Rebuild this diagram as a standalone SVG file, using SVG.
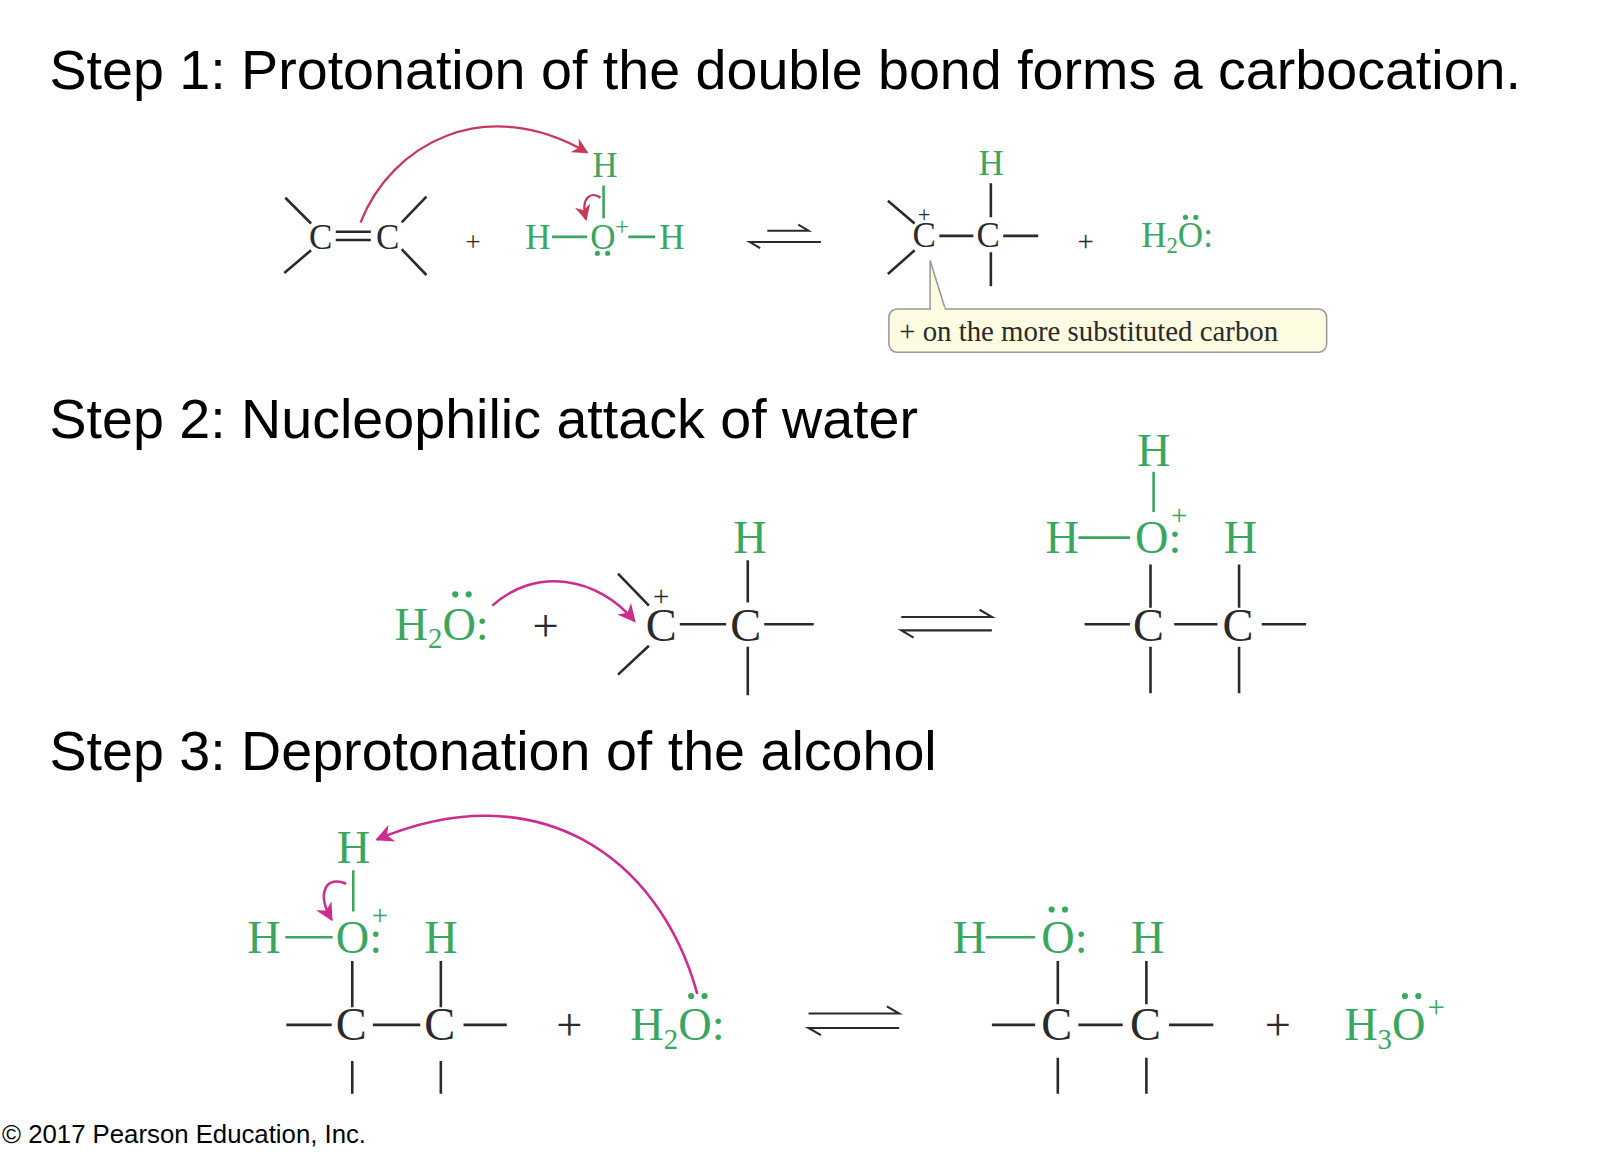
<svg xmlns="http://www.w3.org/2000/svg" width="1614" height="1154" viewBox="0 0 1614 1154">
<defs>
<style>
.t{font-family:"Liberation Sans",Arial,sans-serif;font-size:54px;fill:#000}
.c{font-family:"Liberation Serif","Times New Roman",serif;fill:#2a2a2a}
.g{font-family:"Liberation Serif","Times New Roman",serif;fill:#3aa660}
.s1{font-size:34px}.s2{font-size:45px}
.b{stroke:#2a2a2a;stroke-width:2.5;fill:none}
.bg{stroke:#3aa660;stroke-width:2.5;fill:none}
.ar{stroke:#c8385a;stroke-width:2.2;fill:none}
.am{stroke:#cc2c8e;stroke-width:2.5;fill:none}
.dot{fill:#3aa660}
</style>
<marker id="mr" viewBox="0 0 10 10" refX="9" refY="5" markerWidth="7" markerHeight="7" orient="auto"><path d="M0,0 L10,5 L0,10 L3,5z" fill="#c8385a"/></marker>
<marker id="mm" viewBox="0 0 10 10" refX="9" refY="5" markerWidth="7" markerHeight="7" orient="auto"><path d="M0,0 L10,5 L0,10 L3,5z" fill="#cc2c8e"/></marker>
</defs>
<rect width="1614" height="1154" fill="#fff"/>
<g transform="scale(1.03)">
<g id="titles">
<text class="t" x="48" y="86">Step 1: Protonation of the double bond forms a carbocation.</text>
<text class="t" x="48" y="425">Step 2: Nucleophilic attack of water</text>
<text class="t" x="48" y="748">Step 3: Deprotonation of the alcohol</text>
<text x="2" y="1110" style="font-family:'Liberation Sans',Arial,sans-serif;font-size:25px">© 2017 Pearson Education, Inc.</text>
</g>
<g id="step1-alkene">
<text class="c s1" x="300" y="242">C</text><text class="c s1" x="365" y="242">C</text>
<path class="b" d="M277,192L302,217M302,243L276,265M390,216L414,191M390,242L414,267M326,225H360M326,233H360"/>
</g>
<g id="step1-hydronium">
<text class="c s1" x="452" y="244" style="font-size:26px">+</text>
<text class="g s1" x="510" y="242">H</text><text class="g s1" x="573" y="242">O</text><text class="g s1" x="640" y="242">H</text>
<text class="g s1" x="575" y="172">H</text>
<text class="g" x="597" y="228" style="font-size:24px">+</text>
<path class="bg" d="M536,230H570M610,230H636M586,180V212"/>
<circle class="dot" cx="580" cy="246" r="2.5"/><circle class="dot" cx="590" cy="246" r="2.5"/>
</g>
<g id="step1-products">
<text class="c s1" x="886" y="240">C</text><text class="c" x="891" y="216" style="font-size:22px">+</text>
<text class="c s1" x="948" y="240">C</text>
<text class="g s1" x="950" y="170">H</text>
<path class="b" d="M862,195L888,217M888,243L862,266M912,229H945M974,229H1008M962,178V211M962,245V278"/>
<text class="c" x="1046" y="244" style="font-size:28px">+</text>
<text class="g s1" x="1108" y="240">H<tspan dy="6" font-size="22">2</tspan><tspan dy="-6">O:</tspan></text>
<circle class="dot" cx="1151" cy="211" r="2.5"/><circle class="dot" cx="1161" cy="211" r="2.5"/>
</g>
<g id="callout">
<path d="M903,253L903,301H918Z" fill="#fdfbe0" stroke="#999" stroke-width="1.5"/>
<rect x="863" y="300" width="425" height="42" rx="8" fill="#fdfbe0" stroke="#999" stroke-width="1.5"/>
<rect x="904" y="298" width="13" height="4" fill="#fdfbe0"/>
<text class="c" x="873" y="331" style="font-size:28px">+ on the more substituted carbon</text>
</g>
<g id="step2-water">
<text class="g s2" x="383" y="621">H<tspan dy="8" font-size="28">2</tspan><tspan dy="-8">O:</tspan></text>
<circle class="dot" cx="442" cy="577" r="3"/><circle class="dot" cx="455" cy="577" r="3"/>
<text class="c s2" x="517" y="622">+</text>
</g>
<g id="step2-cation">
<text class="c s2" x="627" y="622">C</text><text class="c" x="634" y="588" style="font-size:28px">+</text>
<text class="c s2" x="709" y="622">C</text>
<text class="g s2" x="712" y="537">H</text>
<path class="b" d="M600,557L630,588M630,627L600,655M660,606H705M742,606H790M726,544V585M726,628V675"/>
</g>
<g id="step2-product">
<text class="g s2" x="1104" y="452">H</text>
<text class="g s2" x="1015" y="537">H</text><text class="g s2" x="1102" y="537">O:</text>
<text class="g" x="1137" y="510" style="font-size:28px">+</text>
<text class="g s2" x="1188" y="537">H</text>
<text class="c s2" x="1100" y="622">C</text><text class="c s2" x="1187" y="622">C</text>
<path class="bg" d="M1120,458V497M1047,522H1097"/>
<path class="b" d="M1117,548V590M1203,548V590M1053,606H1097M1140,606H1182M1225,606H1268M1117,628V673M1203,628V673"/>
</g>
<g id="step3-reactant">
<text class="g s2" x="327" y="838">H</text>
<text class="g s2" x="240" y="925">H</text><text class="g s2" x="326" y="925">O:</text>
<text class="g" x="361" y="898" style="font-size:28px">+</text>
<text class="g s2" x="412" y="925">H</text>
<text class="c s2" x="326" y="1010">C</text><text class="c s2" x="412" y="1010">C</text>
<path class="bg" d="M343,845V885M277,910H323"/>
<path class="b" d="M342,933V978M428,933V978M278,995H322M362,995H408M450,995H492M342,1030V1062M428,1030V1062"/>
<text class="c s2" x="540" y="1010">+</text>
<text class="g s2" x="612" y="1010">H<tspan dy="8" font-size="28">2</tspan><tspan dy="-8">O:</tspan></text>
<circle class="dot" cx="671" cy="967" r="3"/><circle class="dot" cx="684" cy="967" r="3"/>
</g>
<g id="step3-product">
<text class="g s2" x="925" y="925">H</text><text class="g s2" x="1011" y="925">O:</text>
<circle class="dot" cx="1021" cy="883" r="3"/><circle class="dot" cx="1034" cy="883" r="3"/>
<text class="g s2" x="1098" y="925">H</text>
<text class="c s2" x="1011" y="1010">C</text><text class="c s2" x="1097" y="1010">C</text>
<path class="bg" d="M957,910H1005"/>
<path class="b" d="M1027,933V975M1113,933V975M963,995H1005M1047,995H1090M1135,995H1178M1027,1027V1062M1113,1027V1062"/>
<text class="c s2" x="1228" y="1010">+</text>
<text class="g s2" x="1305" y="1010">H<tspan dy="8" font-size="28">3</tspan><tspan dy="-8">O</tspan><tspan dx="2" dy="-22" font-size="30">+</tspan></text>
<circle class="dot" cx="1364" cy="967" r="3"/><circle class="dot" cx="1377" cy="967" r="3"/>
</g>
<g id="connectors">
<path class="ar" d="M350,216C380,140 470,90 570,148" marker-end="url(#mr)"/>
<path class="ar" d="M583,192C575,186 563,190 569,213" marker-end="url(#mr)"/>
<path class="b" style="stroke-width:2" d="M745,224H785L775,218M797,235H728L738,241"/>
<path class="am" d="M478,588C520,550 580,560 616,603" marker-end="url(#mm)"/>
<path class="b" style="stroke-width:2" d="M875,599H963L951,592M963,612H875L887,619"/>
<path class="am" d="M677,965C640,830 520,750 366,815" marker-end="url(#mm)"/>
<path class="am" d="M336,858C318,850 306,865 322,893" marker-end="url(#mm)"/>
<path class="b" style="stroke-width:2" d="M785,984H873L861,977M873,998H785L797,1005"/>
</g>
</g>
</svg>
